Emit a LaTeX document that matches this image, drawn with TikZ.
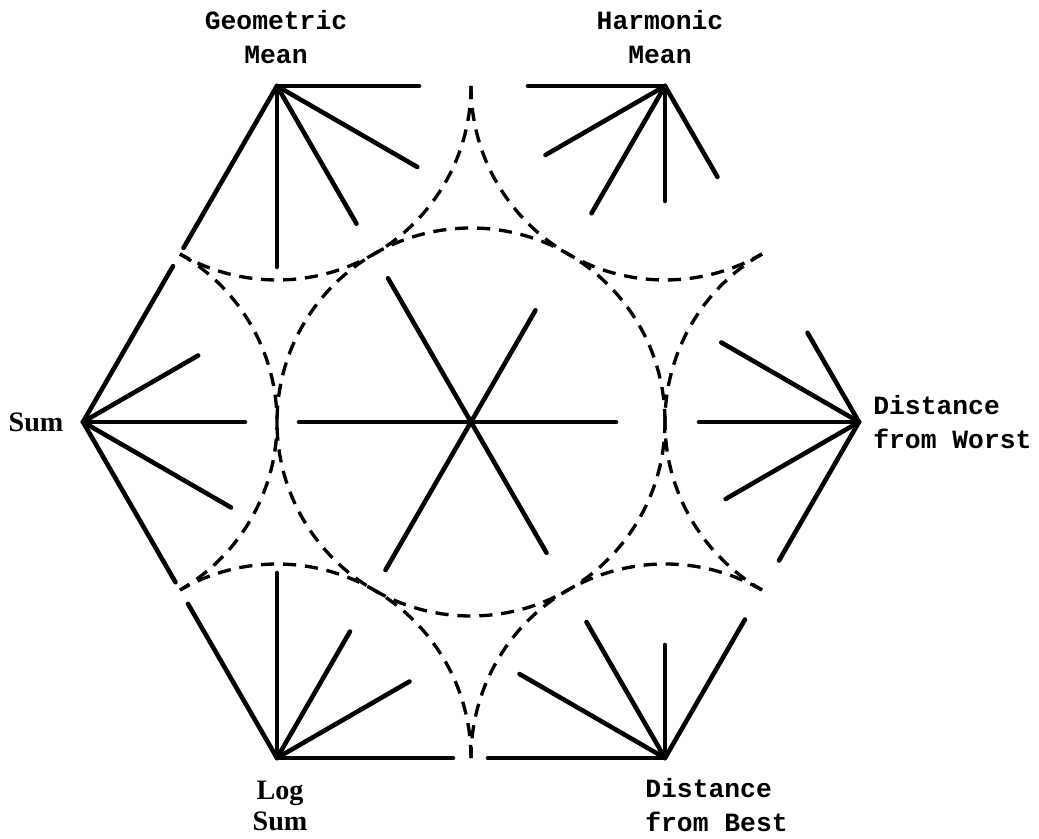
\documentclass[tikz,border=0pt]{standalone}
\usepackage{fontspec}
\setmainfont{Liberation Serif}
\setmonofont{Liberation Mono}
\usetikzlibrary{positioning}

\begin{document}
\begin{tikzpicture}[
    spoke/.style={line width=2.6pt,line cap=round},
    guide/.style={line width=1.9pt,dash pattern=on 7.5pt off 5pt},
    tlabel/.style={font=\fontsize{15}{19}\selectfont\ttfamily\bfseries,inner sep=0pt},
    slabel/.style={font=\fontsize{16}{17.5}\selectfont\bfseries,inner sep=0pt}
]
  \useasboundingbox (-9.42,-8.34) rectangle (11.36,8.44);

  % Hexagon corners and centre
  \coordinate (ctr) at (0,0);
  \coordinate (sum) at (180:7.76);
  \coordinate (gm)  at (120:7.76);
  \coordinate (hm)  at (60:7.76);
  \coordinate (dw)  at (0:7.76);
  \coordinate (db)  at (-60:7.76);
  \coordinate (ls)  at (-120:7.76);

  % Spokes from each corner
  \foreach \a/\l in {0/2.84,-30/3.24,-60/3.18,-90/3.62,-120/3.74}
    \draw[spoke] (gm) -- ++(\a:\l);
  \foreach \a/\l in {180/2.74,210/2.76,240/2.94,270/2.30,300/2.10}
    \draw[spoke] (hm) -- ++(\a:\l);
  \foreach \a/\l in {60/3.6,30/2.66,0/3.24,-30/3.42,-60/3.7}
    \draw[spoke] (sum) -- ++(\a:\l);
  \foreach \a/\l in {120/3.56,90/3.70,60/2.92,30/3.06,0/3.52}
    \draw[spoke] (ls) -- ++(\a:\l);
  \foreach \a/\l in {180/3.54,150/3.36,120/3.14,90/2.26,60/3.20}
    \draw[spoke] (db) -- ++(\a:\l);
  \foreach \a/\l in {120/2.06,150/3.18,180/3.2,210/3.08,240/3.2}
    \draw[spoke] (dw) -- ++(\a:\l);
  \foreach \a/\l in {0/2.9,60/2.58,120/3.32,180/3.44,240/3.42,300/3.02}
    \draw[spoke] (ctr) -- ++(\a:\l);

  % Dashed circles
  \draw[guide] (ctr) circle[radius=3.88];
  \draw[guide] (gm)  ++(0:3.88)   arc[start angle=0,end angle=-120,radius=3.88];
  \draw[guide] (hm)  ++(180:3.88) arc[start angle=180,end angle=300,radius=3.88];
  \draw[guide] (sum) ++(60:3.88)  arc[start angle=60,end angle=-60,radius=3.88];
  \draw[guide] (dw)  ++(120:3.88) arc[start angle=120,end angle=240,radius=3.88];
  \draw[guide] (db)  ++(60:3.88)  arc[start angle=60,end angle=180,radius=3.88];
  \draw[guide] (ls)  ++(0:3.88)   arc[start angle=0,end angle=120,radius=3.88];

  % Labels
  \node[tlabel,align=center] (lgm) at (-3.9,7.7) {Geometric\\Mean};
  \node[tlabel,align=center] (lhm) at (3.78,7.7) {Harmonic\\Mean};
  \node[slabel] (lsum) at (-8.7,0) {Sum};
  \node[tlabel,align=left,anchor=west] (ldw) at (8.04,0) {Distance\\from Worst};
  \node[slabel,align=center] (lls) at (-3.82,-7.68) {Log\\Sum};
  \node[tlabel,align=left,anchor=west] (ldb) at (3.48,-7.66) {Distance\\from Best};

\end{tikzpicture}
\end{document}
